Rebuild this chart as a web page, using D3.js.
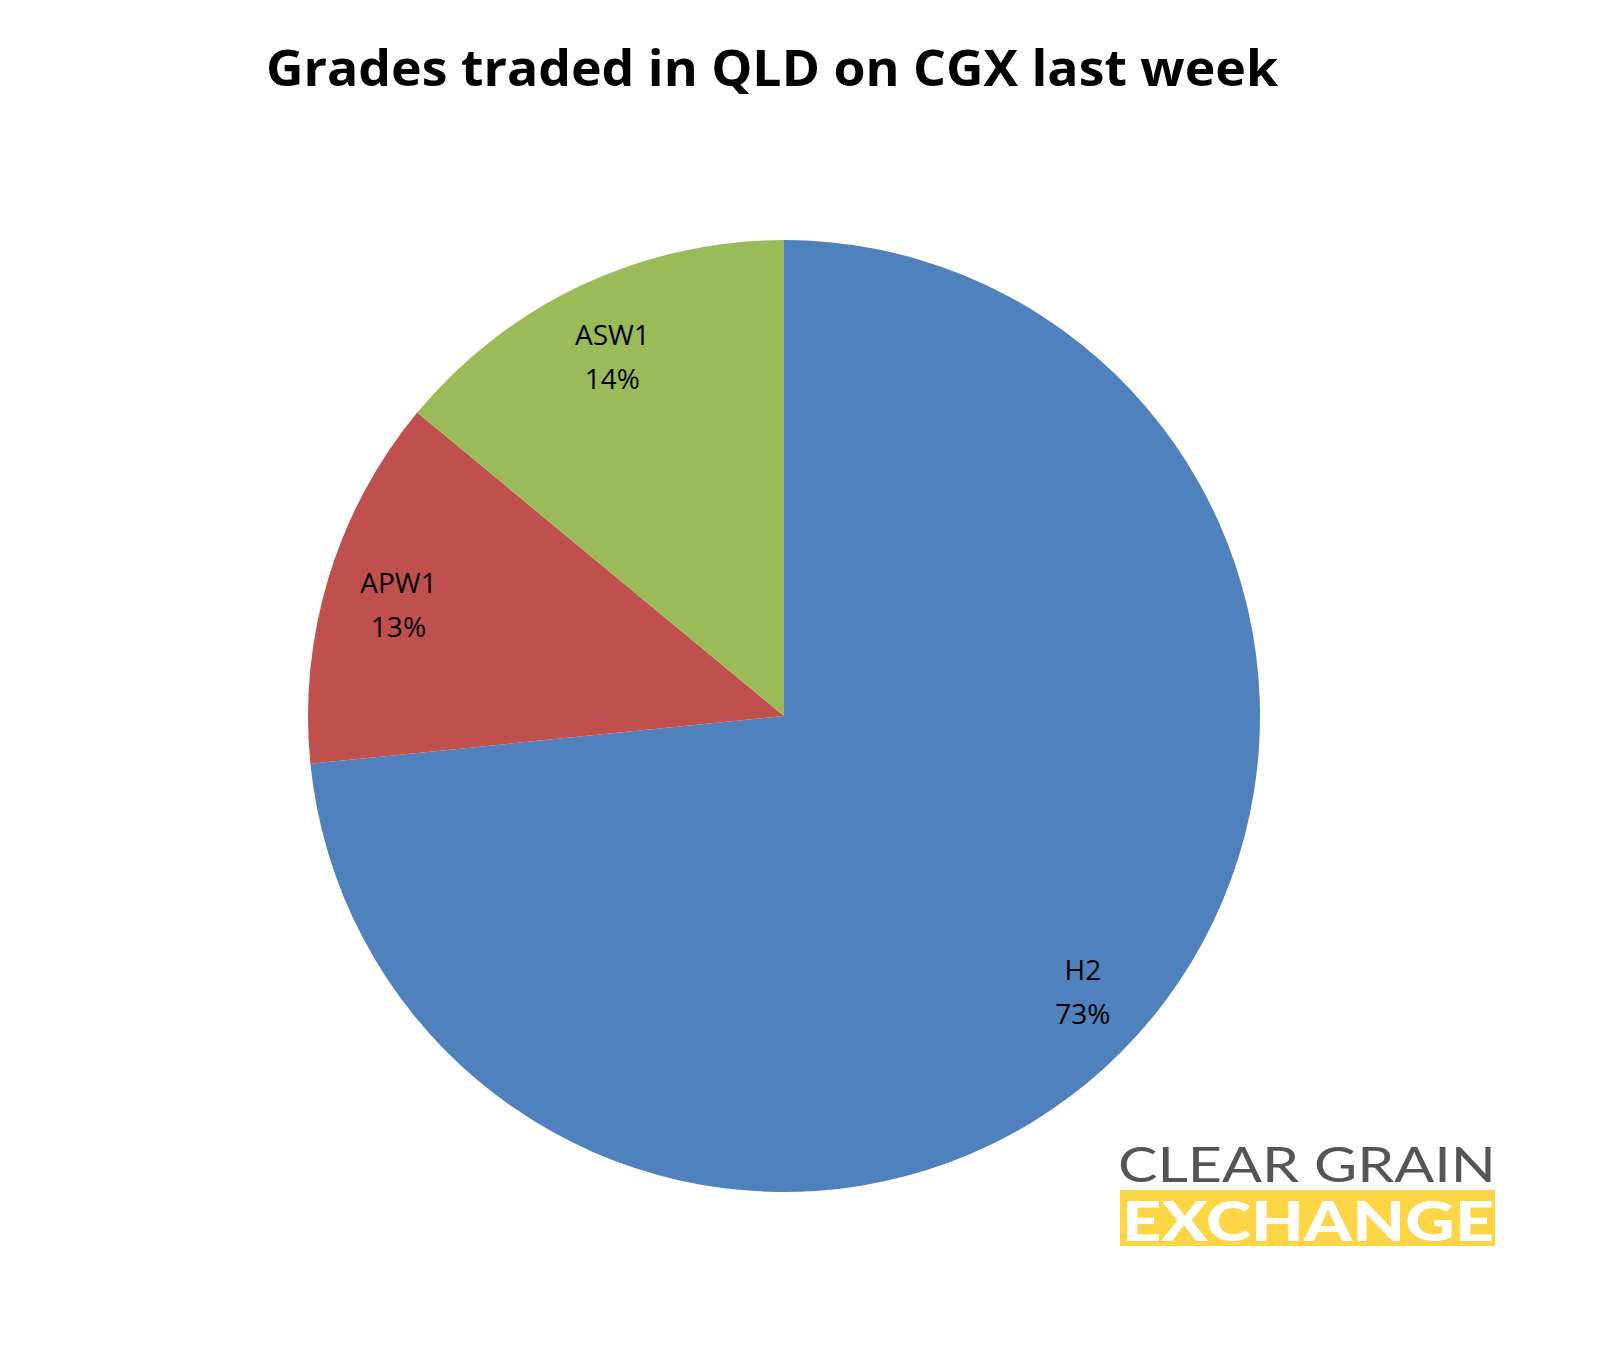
<!DOCTYPE html>
<html><head><meta charset="utf-8">
<script src="https://d3js.org/d3.v7.min.js"></script>
<style>body{margin:0;background:#fff}</style>
</head><body><svg id="c" width="1609" height="1351"></svg>
<script>
const categories = ["H2", "APW1", "ASW1"];
const values = [73.4, 12.6, 14.0];
const pctLabels = ["73%", "13%", "14%"];
const colors = ["#4F81BD", "#C0504D", "#9BBB59"];

const svg = d3.select("#c");
svg.append("text").attr("x", 772).attr("y", 86).attr("text-anchor", "middle")
  .attr("font-family", "Open Sans, Lato, sans-serif").attr("font-weight", "bold")
  .attr("font-size", 51).attr("textLength", 1012).attr("lengthAdjust", "spacingAndGlyphs")
  .text("Grades traded in QLD on CGX last week");

const cx = 784, cy = 716, R = 476;
const pie = d3.pie().sort(null).value(d => d)(values);
const arc = d3.arc().innerRadius(0).outerRadius(R);
const g = svg.append("g").attr("transform", `translate(${cx},${cy})`);
g.selectAll("path").data(pie).join("path").attr("d", arc).attr("fill", (d, i) => colors[i]);
const lab = d3.arc().innerRadius(403).outerRadius(403);
pie.forEach((d, i) => {
  const [x, y] = lab.centroid(d);
  const t = g.append("text").attr("text-anchor", "middle").attr("font-family", "Open Sans, sans-serif")
    .attr("font-size", 28).attr("fill", "#000");
  t.append("tspan").attr("x", x).attr("y", y - 6).text(categories[i]);
  t.append("tspan").attr("x", x).attr("y", y + 38).text(pctLabels[i]);
});

// logo
svg.append("text").attr("x", 1118).attr("y", 1182).attr("font-family", "Lato, Open Sans, sans-serif")
  .attr("font-size", 48).attr("fill", "#555").attr("textLength", 378).attr("lengthAdjust", "spacingAndGlyphs")
  .text("CLEAR GRAIN");
svg.append("rect").attr("x", 1120).attr("y", 1190).attr("width", 375).attr("height", 56).attr("fill", "#FDD545");
svg.append("text").attr("x", 1122).attr("y", 1241).attr("font-family", "Lato, Open Sans, sans-serif")
  .attr("font-weight", "900").attr("font-size", 56).attr("fill", "#fff").attr("textLength", 372)
  .attr("lengthAdjust", "spacingAndGlyphs").text("EXCHANGE");
</script></body></html>
